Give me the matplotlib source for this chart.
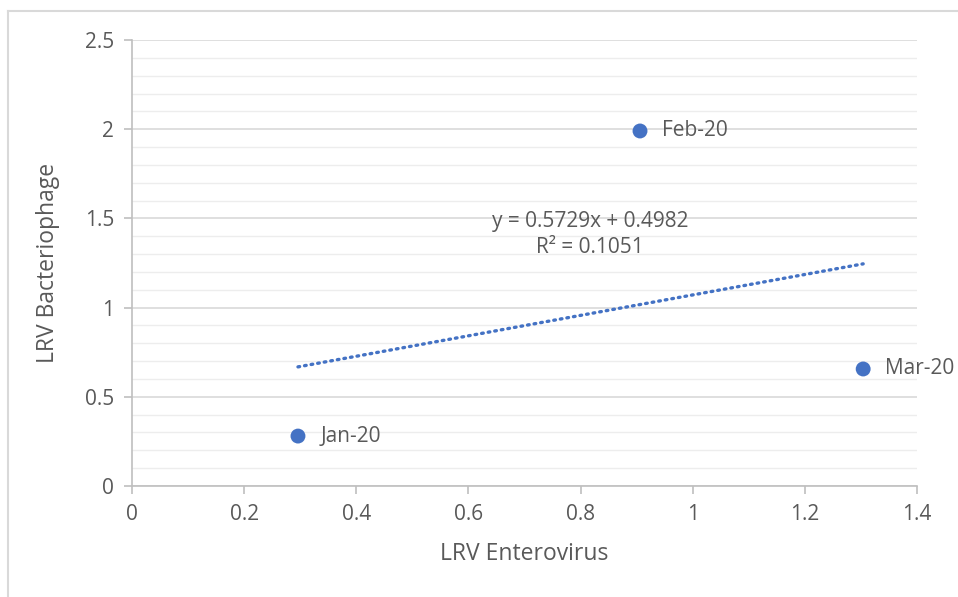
import numpy as np
import matplotlib.pyplot as plt
from matplotlib.lines import Line2D

months = ['Jan-20', 'Feb-20', 'Mar-20']
lrv_entero = [0.296, 0.906, 1.304]
lrv_phage = [0.28, 1.99, 0.656]
slope, intercept = 0.5729, 0.4982
r2 = 0.1051

blue = '#4472C4'
grey_txt = '#595959'
plt.rcParams['font.family'] = ['Open Sans', 'DejaVu Sans']

fig = plt.figure(figsize=(9.58, 5.97), dpi=100)
ax = fig.add_axes([0.1378, 0.1859, 0.8194, 0.7471])

# chart border (only top and left visible in the crop)
fig.add_artist(Line2D([8/958, 8/958], [0, 1 - 11/597], color='#D9D9D9', lw=1.5, transform=fig.transFigure))
fig.add_artist(Line2D([8/958, 1], [1 - 11/597, 1 - 11/597], color='#D9D9D9', lw=1.5, transform=fig.transFigure))

ax.scatter(lrv_entero, lrv_phage, s=115, color=blue, zorder=3, edgecolors='none')
for x, y, m in zip(lrv_entero, lrv_phage, months):
    ax.annotate(m, (x, y), xytext=(16, 0), textcoords='offset points',
                va='center', ha='left', fontsize=15, color=grey_txt)

xt = np.array([min(lrv_entero), max(lrv_entero)])
ax.plot(xt, slope * xt + intercept, color=blue, lw=2.4, linestyle=(0, (0.5, 1.5)),
        dash_capstyle='round', zorder=2)
ax.text(0.817, 1.41, f'y = {slope}x + {intercept}\nR² = {r2}', ha='center', va='center',
        fontsize=15, color=grey_txt, linespacing=1.3)

ax.set_xlim(0, 1.4)
ax.set_ylim(0, 2.5)
ax.set_xticks(np.arange(0, 1.41, 0.2))
ax.set_xticklabels(['0', '0.2', '0.4', '0.6', '0.8', '1', '1.2', '1.4'])
ax.set_yticks(np.arange(0, 2.51, 0.5))
ax.set_yticklabels(['0', '0.5', '1', '1.5', '2', '2.5'])
ax.set_yticks(np.arange(0, 2.51, 0.1), minor=True)
ax.grid(True, axis='y', which='major', color='#D9D9D9', lw=1.2)
ax.grid(True, axis='y', which='minor', color='#EDEDED', lw=1.0)
ax.set_axisbelow(True)

for s in ['top', 'right']:
    ax.spines[s].set_visible(False)
for s in ['left', 'bottom']:
    ax.spines[s].set_color('#BFBFBF')
    ax.spines[s].set_linewidth(1.2)
ax.tick_params(axis='both', which='major', color='#BFBFBF', length=6, width=1.2,
               labelsize=15, labelcolor=grey_txt, pad=7)
ax.tick_params(axis='y', which='minor', length=0)

ax.set_xlabel('LRV Enterovirus', fontsize=16.5, color=grey_txt, labelpad=12)
ax.set_ylabel('LRV Bacteriophage', fontsize=16.5, color=grey_txt, labelpad=18)

fig.savefig('out.png', dpi=100)
